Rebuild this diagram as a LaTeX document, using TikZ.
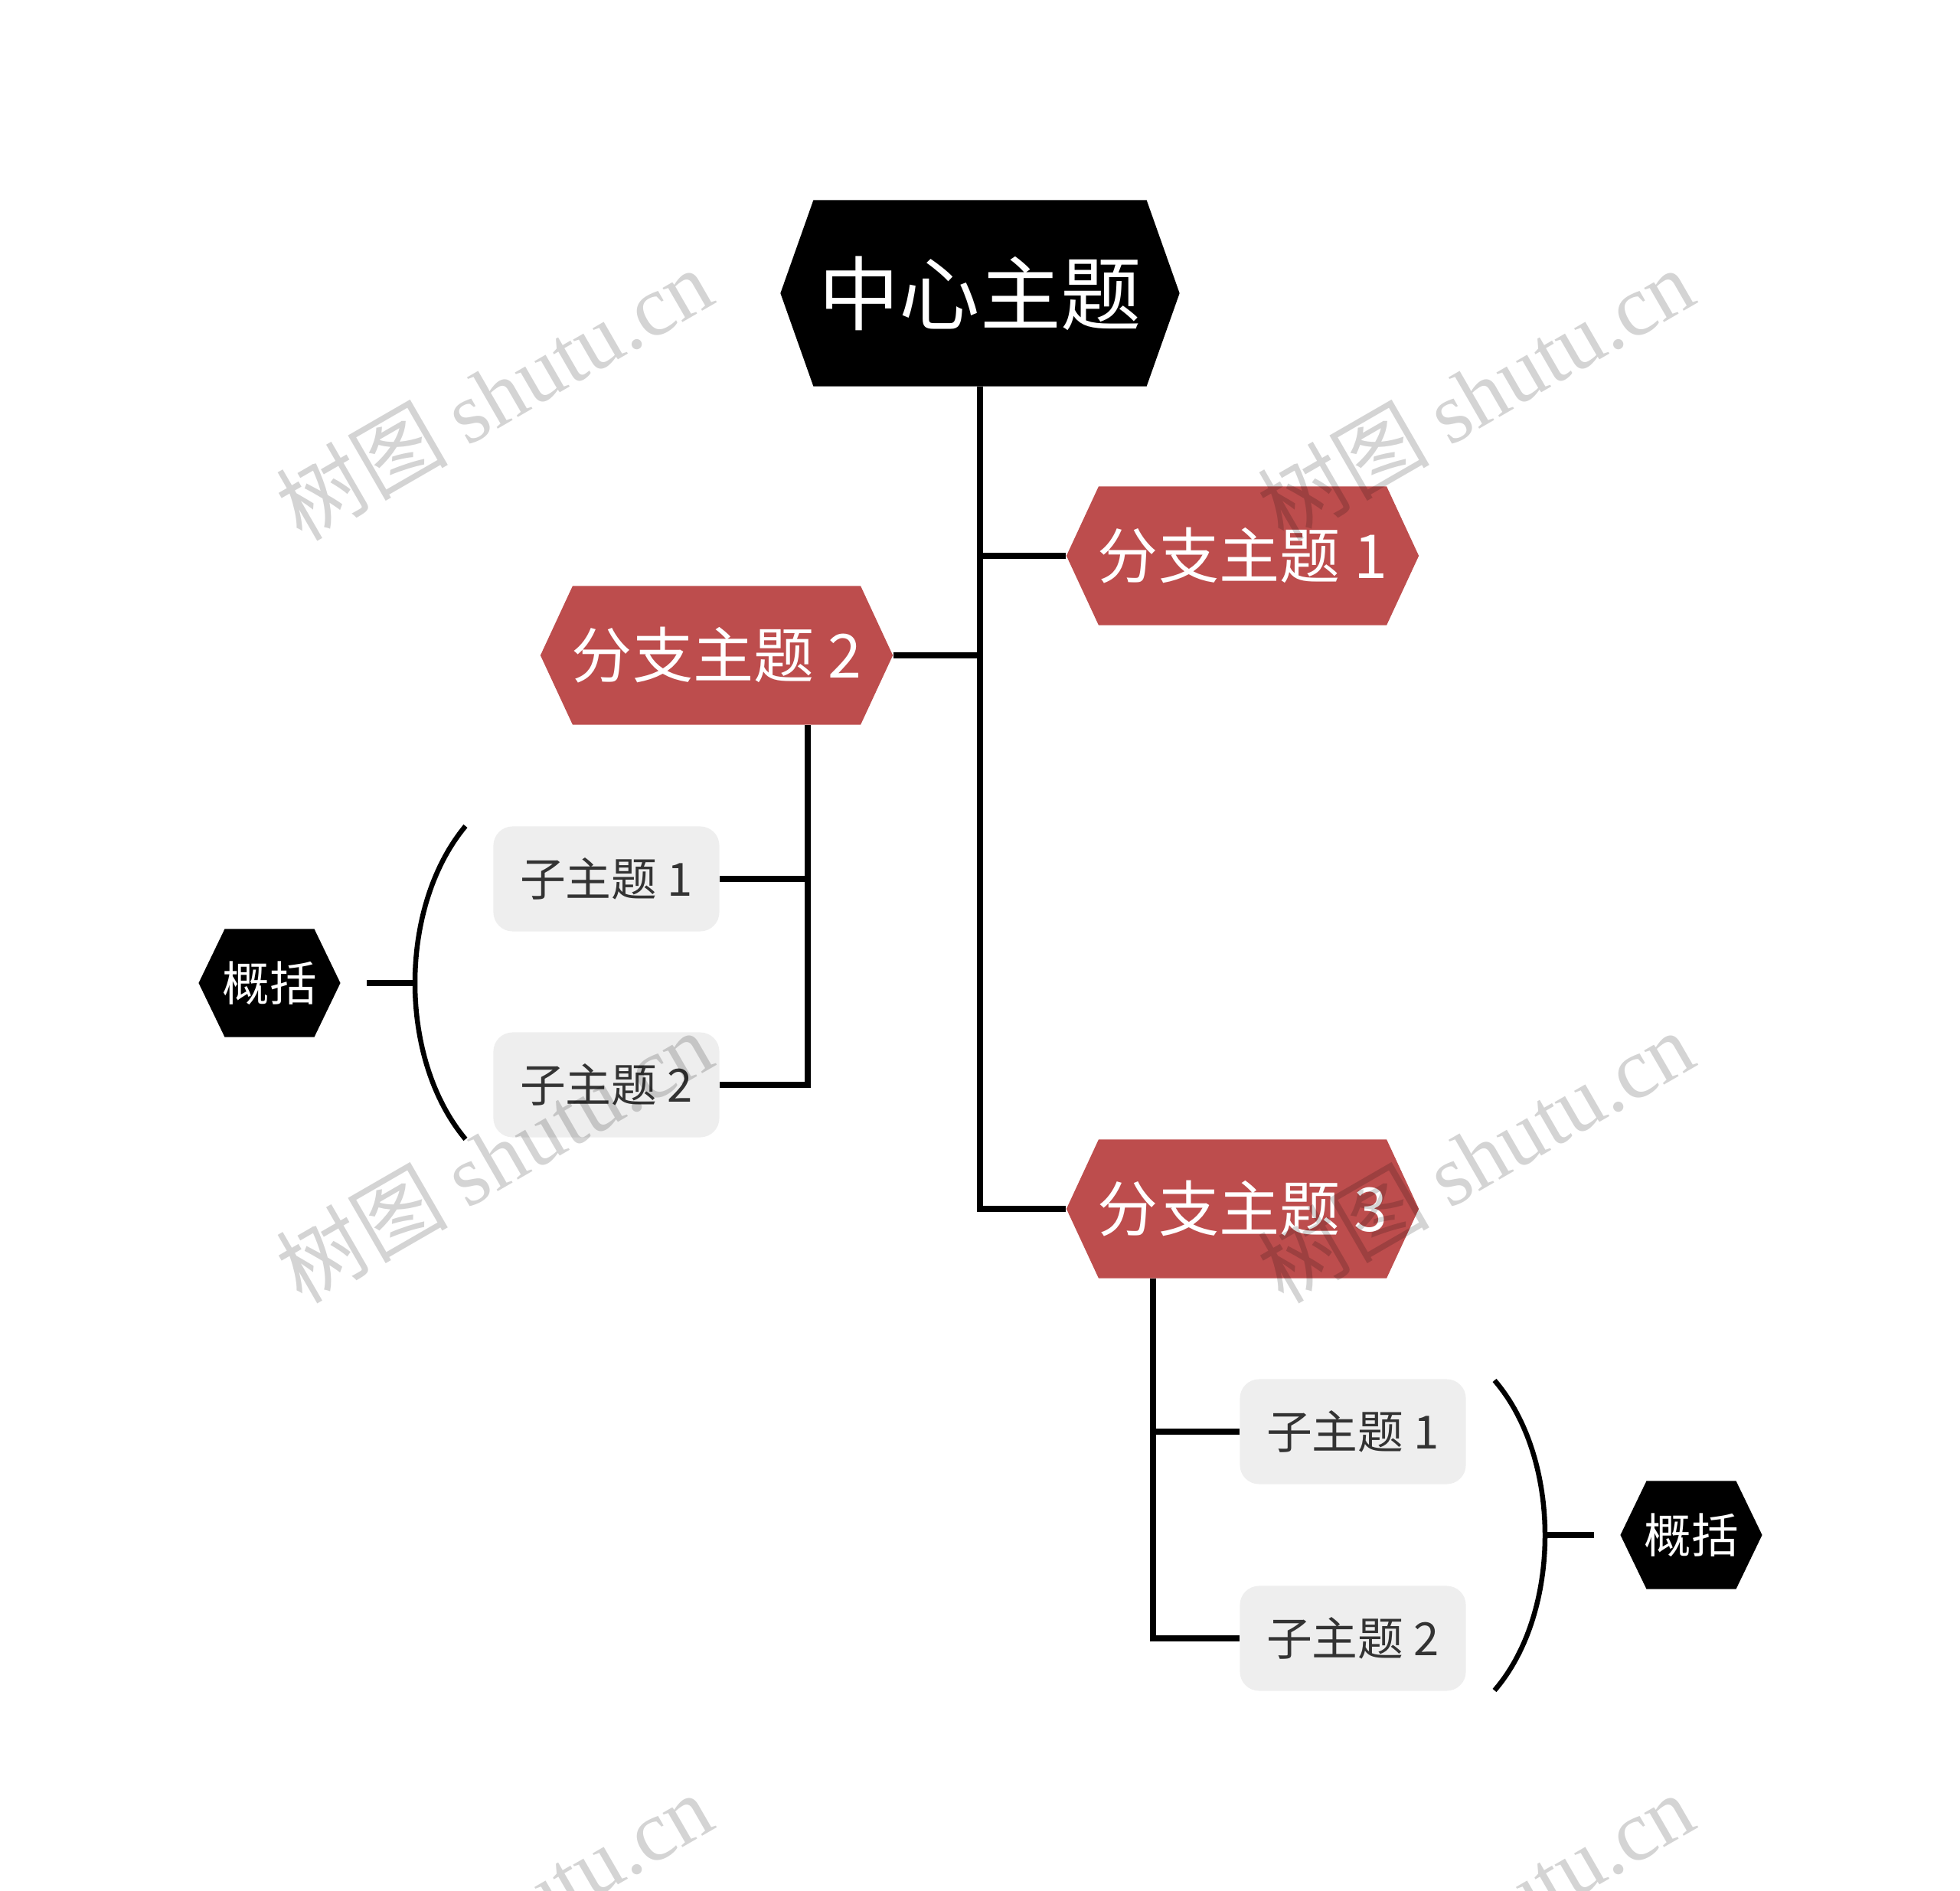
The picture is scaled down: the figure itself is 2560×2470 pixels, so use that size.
\documentclass[tikz,border=0pt]{standalone}
\usepackage{fontspec}
\setmainfont{Noto Sans CJK SC}
\newfontfamily\wmfont{Liberation Serif}
\usepackage{xcolor}
\usepackage{tikz}
\usetikzlibrary{
  positioning
}
\definecolor{branchred}{HTML}{BD4D4D}
\definecolor{subgray}{HTML}{EEEEEE}
\definecolor{subtext}{HTML}{333333}

\begin{document}
\begin{tikzpicture}[x=0.01cm,y=-0.01cm,
  hexa/.style 2 args={path picture={\fill[#1]
    ([xshift=#2]path picture bounding box.north west) --
    ([xshift=-#2]path picture bounding box.north east) --
    (path picture bounding box.east) --
    ([xshift=-#2]path picture bounding box.south east) --
    ([xshift=#2]path picture bounding box.south west) --
    (path picture bounding box.west) -- cycle;}},
  maintopic/.style={hexa={black}{0.43cm},minimum width=5.21cm,minimum height=2.43cm,inner sep=0pt,text=white,font=\fontsize{30}{30}\selectfont},
  branch/.style={hexa={branchred}{0.42cm},minimum width=4.60cm,minimum height=1.81cm,inner sep=0pt,text=white,font=\fontsize{22.5}{22.5}\selectfont},
  subtopic/.style={rectangle,rounded corners=0.25cm,fill=subgray,minimum width=2.95cm,minimum height=1.37cm,inner sep=0pt,text=subtext,font=\fontsize{17}{17}\selectfont},
  summary/.style={hexa={black}{0.34cm},minimum width=1.85cm,minimum height=1.41cm,inner sep=0pt,text=white,font=\fontsize{17.5}{17.5}\selectfont},
  link/.style={line width=0.075cm},
  brace/.style={line width=0.065cm},
  wmark/.style={rotate=30,text=black,text opacity=0.17,font=\fontsize{32}{32}\selectfont}]
  \useasboundingbox (0,0) rectangle (2560,2470);
  \clip (0,0) rectangle (2560,2470);

  \node[maintopic] (0) at (1280,383) {中心主题};
  \node[branch] (1) at (1623,726) {分支主题 1};
  \node[branch] (2) at (936,856) {分支主题 2};
  \node[branch] (3) at (1623,1579) {分支主题 3};
  \draw[link] (0.south) |- (3.west);
  \draw[link] (1.west) -- (1.west -| 0.south);
  \draw[link] (2.east) -- (2.east -| 0.south);

  \node[subtopic] (4) at (792,1148) {子主题 1};
  \node[subtopic] (5) at (792,1417) {子主题 2};
  \draw[link] ([xshift=1.19cm]2.south) |- (5.east);
  \draw[link] (4.east) -- ++(114,0);
  \node[subtopic] (6) at (1767,1870) {子主题 1};
  \node[subtopic] (7) at (1767,2140) {子主题 2};
  \draw[link] ([xshift=-1.17cm]3.south) |- (7.west);
  \draw[link] (6.west) -- ++(-114,0);

  % summaries
  \coordinate (10) at (542,1284);
  \coordinate (11) at (2018,2005);
  \draw[brace] (608,1079) .. controls (520,1185) and (520,1383) .. (608,1488);
  \draw[brace] (1952,1803) .. controls (2040,1905) and (2040,2106) .. (1952,2208);
  \node[summary] (8) at (352,1284) {概括};
  \node[summary] (9) at (2209,2005) {概括};
  \draw[link,shorten >=0.34cm] (10) -- (8.east);
  \draw[link,shorten >=0.34cm] (11) -- (9.west);

  \node[wmark] (12) at (645,514) {树图 {\wmfont shutu.cn}};
  \node[wmark] (13) at (1927,514) {树图 {\wmfont shutu.cn}};
  \node[wmark] (14) at (645,1510) {树图 {\wmfont shutu.cn}};
  \node[wmark] (15) at (1927,1510) {树图 {\wmfont shutu.cn}};
  \node[wmark] (16) at (645,2506) {树图 {\wmfont shutu.cn}};
  \node[wmark] (17) at (1927,2506) {树图 {\wmfont shutu.cn}};

\end{tikzpicture}
\end{document}
